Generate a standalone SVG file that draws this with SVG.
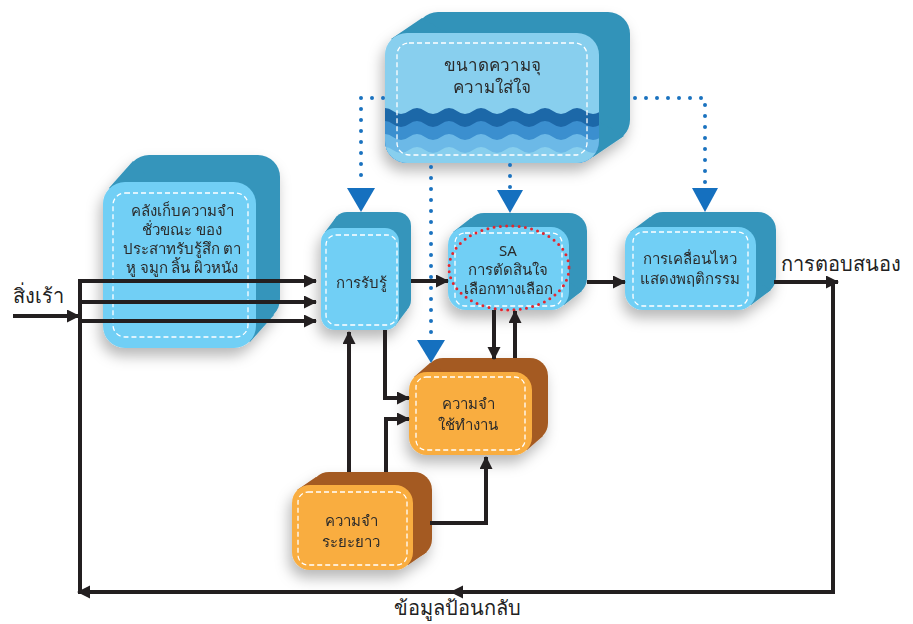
<svg xmlns="http://www.w3.org/2000/svg" width="913" height="624" viewBox="0 0 913 624">
<style>
text{font-family:"Noto Sans","DejaVu Sans",sans-serif;fill:#2b2b2b;text-anchor:middle}
.t{font-size:15px}
.big{font-size:20px;text-anchor:start;fill:#222}
.bf{fill:#71cff5}.bb{fill:#3595bb}
.of{fill:#f9ad40}.ob{fill:#a45a22}
.dash{fill:none;stroke:#fff;stroke-width:1.3;stroke-dasharray:5 3}
.ln{fill:none;stroke:#231f20;stroke-width:4}
.dot{fill:none;stroke:#1a72bf;stroke-width:4;stroke-dasharray:0 11;stroke-linecap:round}
.tri{fill:#1570bf}
</style>
<defs>
<filter id="sh" x="-30%" y="-30%" width="160%" height="170%">
<feDropShadow dx="-3" dy="8" stdDeviation="7" flood-color="#000" flood-opacity="0.28"/>
</filter>
<marker id="ar" markerUnits="userSpaceOnUse" markerWidth="14" markerHeight="14" refX="12" refY="6.5" orient="auto">
<path d="M0,0 L13,6.5 L0,13 z" fill="#231f20"/>
</marker>
<clipPath id="topclip"><rect x="385" y="33" width="214" height="130" rx="22"/></clipPath>
</defs>

<g id="node-attention" filter="url(#sh)">
<rect x="416" y="12" width="214" height="130" rx="22" fill="#3393b9"/>
<polygon points="391,39 422,18 624,136 593,157" fill="#3393b9"/>
<rect x="385" y="33" width="214" height="130" rx="22" fill="#88cfee"/>
<g clip-path="url(#topclip)">
<path d="M377 111 q8 -6 16 0 t16 0 t16 0 t16 0 t16 0 t16 0 t16 0 t16 0 t16 0 t16 0 t16 0 t16 0 t16 0 t16 0 t16 0 V170 H377 Z" fill="#1f67a8"/>
<path d="M377 124 q8 -6 16 0 t16 0 t16 0 t16 0 t16 0 t16 0 t16 0 t16 0 t16 0 t16 0 t16 0 t16 0 t16 0 t16 0 t16 0 V170 H377 Z" fill="#3b8fcf"/>
<path d="M377 137 q8 -6 16 0 t16 0 t16 0 t16 0 t16 0 t16 0 t16 0 t16 0 t16 0 t16 0 t16 0 t16 0 t16 0 t16 0 t16 0 V170 H377 Z" fill="#6cb9e7"/>
<path d="M377 150 q8 -6 16 0 t16 0 t16 0 t16 0 t16 0 t16 0 t16 0 t16 0 t16 0 t16 0 t16 0 t16 0 t16 0 t16 0 t16 0 V170 H377 Z" fill="#88cfee"/>
</g>
<rect x="397" y="43" width="190" height="112" rx="12" class="dash"/>
<text x="492" y="71" style="font-size:17px">ขนาดความจุ</text>
<text x="492" y="93" style="font-size:17px">ความใส่ใจ</text>
</g>

<g id="node-sensory" filter="url(#sh)">
<rect x="127" y="155" width="153" height="166" rx="22" class="bb"/>
<polygon points="109,188 133,161 274,315 250,342" class="bb"/>
<rect x="103" y="182" width="153" height="166" rx="22" class="bf"/>
<rect x="113" y="193" width="135" height="144" rx="12" class="dash"/>
<text x="182" y="216" class="t">คลังเก็บความจำ</text>
<text x="182" y="235" class="t">ชั่วขณะ ของ</text>
<text x="182" y="254" class="t">ประสาทรับรู้สึก ตา</text>
<text x="182" y="273" class="t">หู จมูก ลิ้น ผิวหนัง</text>
</g>

<g id="node-perception" filter="url(#sh)">
<rect x="333" y="212" width="78" height="102" rx="14" class="bb"/>
<polygon points="325,232 337,216 407,310 395,326" class="bb"/>
<rect x="321" y="228" width="78" height="102" rx="14" class="bf"/>
<rect x="326" y="235" width="71" height="90" rx="10" class="dash"/>
<text x="361" y="288" class="t">การรับรู้</text>
</g>

<g id="node-sa" filter="url(#sh)">
<rect x="466" y="213" width="121" height="83" rx="18" class="bb"/>
<polygon points="453,232 471,218 582,291 564,305" class="bb"/>
<rect x="448" y="227" width="121" height="83" rx="18" class="bf"/>
<rect x="455" y="233" width="107" height="73" rx="10" class="dash"/>
<text x="508" y="256" class="t">SA</text>
<text x="508" y="275" class="t">การตัดสินใจ</text>
<text x="508" y="294" class="t">เลือกทางเลือก</text>
<ellipse cx="509" cy="268" rx="60" ry="42" fill="none" stroke="#e3262e" stroke-width="3" stroke-dasharray="0 6.3" stroke-linecap="round"/>
</g>

<g id="node-motor" filter="url(#sh)">
<rect x="645" y="212" width="131" height="83" rx="18" class="bb"/>
<polygon points="630,232 650,217 771,290 751,305" class="bb"/>
<rect x="625" y="227" width="131" height="83" rx="18" class="bf"/>
<rect x="633" y="232" width="115" height="74" rx="10" class="dash"/>
<text x="690" y="264" class="t">การเคลื่อนไหว</text>
<text x="690" y="284" class="t">แสดงพฤติกรรม</text>
</g>

<g id="node-working" filter="url(#sh)">
<rect x="425" y="358" width="123" height="83" rx="18" class="ob"/>
<polygon points="414,377 430,363 543,436 527,450" class="ob"/>
<rect x="409" y="372" width="123" height="83" rx="18" class="of"/>
<rect x="416" y="377" width="109" height="73" rx="10" class="dash"/>
<text x="468" y="409" class="t">ความจำ</text>
<text x="468" y="430" class="t">ใช้ทำงาน</text>
</g>

<g id="node-longterm" filter="url(#sh)">
<rect x="311" y="472" width="121" height="85" rx="18" class="ob"/>
<polygon points="297,490 316,477 427,552 408,565" class="ob"/>
<rect x="292" y="485" width="121" height="85" rx="18" class="of"/>
<rect x="298" y="492" width="109" height="73" rx="10" class="dash"/>
<text x="351" y="526" class="t">ความจำ</text>
<text x="351" y="547" class="t">ระยะยาว</text>
</g>

<g id="connectors">
<path class="ln" d="M13 316 H79" marker-end="url(#ar)"/>
<path class="ln" d="M80 279 V592"/>
<path class="ln" d="M78 281 H316" marker-end="url(#ar)"/>
<path class="ln" d="M80 302 H316" marker-end="url(#ar)"/>
<path class="ln" d="M80 321 H316" marker-end="url(#ar)"/>
<path class="ln" d="M411 281 H448" marker-end="url(#ar)"/>
<path class="ln" d="M587 282 H625" marker-end="url(#ar)"/>
<path class="ln" d="M774 282 H838" marker-end="url(#ar)"/>
<path class="ln" d="M833 282 V592 H451" marker-end="url(#ar)"/>
<path class="ln" d="M456 592 H78" marker-end="url(#ar)"/>
<path class="ln" d="M349 472 V332" marker-end="url(#ar)"/>
<path class="ln" d="M385 330 V398 H409" marker-end="url(#ar)"/>
<path class="ln" d="M386 472 V419 H409" marker-end="url(#ar)"/>
<path class="ln" d="M430 523 H486 V457" marker-end="url(#ar)"/>
<path class="ln" d="M494 310 V359" marker-end="url(#ar)"/>
<path class="ln" d="M515 358 V311" marker-end="url(#ar)"/>

<path class="dot" d="M383 98 H361 V186"/>
<polygon class="tri" points="347,188 375,188 361,212"/>
<path class="dot" d="M431 167 V338"/>
<polygon class="tri" points="417,340 445,340 431,363"/>
<path class="dot" d="M510 165 V188"/>
<polygon class="tri" points="497,190 523,190 510,213"/>
<path class="dot" d="M635 98 H705 V186"/>
<polygon class="tri" points="692,188 718,188 705,212"/>
</g>

<text x="13" y="303" class="big">สิ่งเร้า</text>
<text x="781" y="271" class="big">การตอบสนอง</text>
<text x="457" y="615" class="big" style="text-anchor:middle">ข้อมูลป้อนกลับ</text>
</svg>
